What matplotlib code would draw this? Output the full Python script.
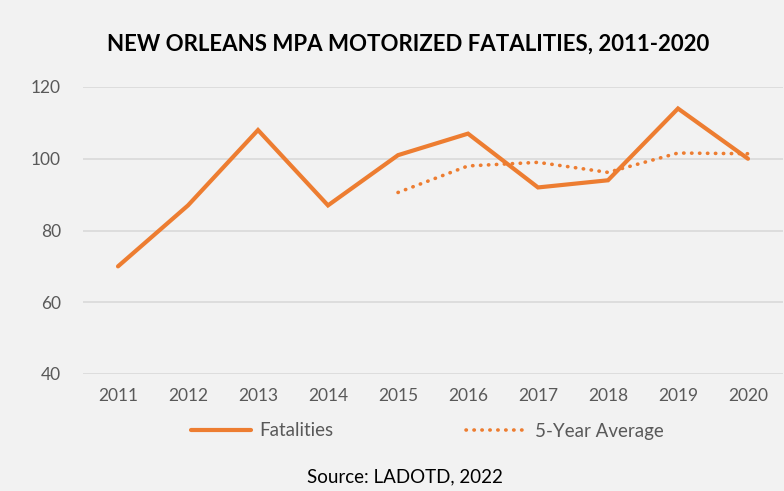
import matplotlib.pyplot as plt

years = ['2011', '2012', '2013', '2014', '2015', '2016', '2017', '2018', '2019', '2020']
fatalities = [70, 87, 108, 87, 101, 107, 92, 94, 114, 100]
avg_years = ['2015', '2016', '2017', '2018', '2019', '2020']
five_year_avg = [90.6, 98.0, 99.0, 96.2, 101.6, 101.4]

orange = '#ED7D31'
gray_txt = '#595959'
bg = '#f2f2f2'

plt.rcParams['font.family'] = ['Lato', 'DejaVu Sans']

fig = plt.figure(figsize=(7.84, 4.91), dpi=100, facecolor=bg)
ax = fig.add_axes([83/784, 1 - 374/491, 700/784, 287/491], facecolor=bg)

x = list(range(len(years)))
xa = [years.index(y) for y in avg_years]
ax.plot(x, fatalities, color=orange, lw=3, solid_capstyle='round', solid_joinstyle='miter',
        label='Fatalities')
ax.plot(xa, five_year_avg, color=orange, lw=2.6, linestyle=(0, (0.1, 2.1)),
        dash_capstyle='round', label='5-Year Average')

ax.set_xlim(-0.5, len(years) - 0.5)
ax.set_ylim(40, 120)
ax.set_yticks([40, 60, 80, 100, 120])
ax.set_xticks(x)
ax.set_xticklabels(years)
ax.grid(axis='y', color='#d9d9d9', lw=1.2)
ax.set_axisbelow(True)
for s in ax.spines.values():
    s.set_visible(False)
ax.tick_params(length=0, labelsize=12.5, labelcolor=gray_txt, pad=10)
ax.tick_params(axis='y', pad=16)

fig.text(408/784, 1 - 44/491, 'NEW ORLEANS MPA MOTORIZED FATALITIES, 2011-2020',
         ha='center', va='center', fontsize=16, fontweight='bold', color='black')

fig.legend(loc='center', bbox_to_anchor=(427/784, 1 - 431/491), ncol=2, frameon=False,
           fontsize=13.5, labelcolor=gray_txt, handlelength=3.2, handletextpad=0.45,
           columnspacing=7.1)

fig.text(405/784, 1 - 477/491, 'Source: LADOTD, 2022', ha='center', va='center',
         fontsize=13.5, color='black')

fig.savefig('out.png', dpi=100, facecolor=bg)
